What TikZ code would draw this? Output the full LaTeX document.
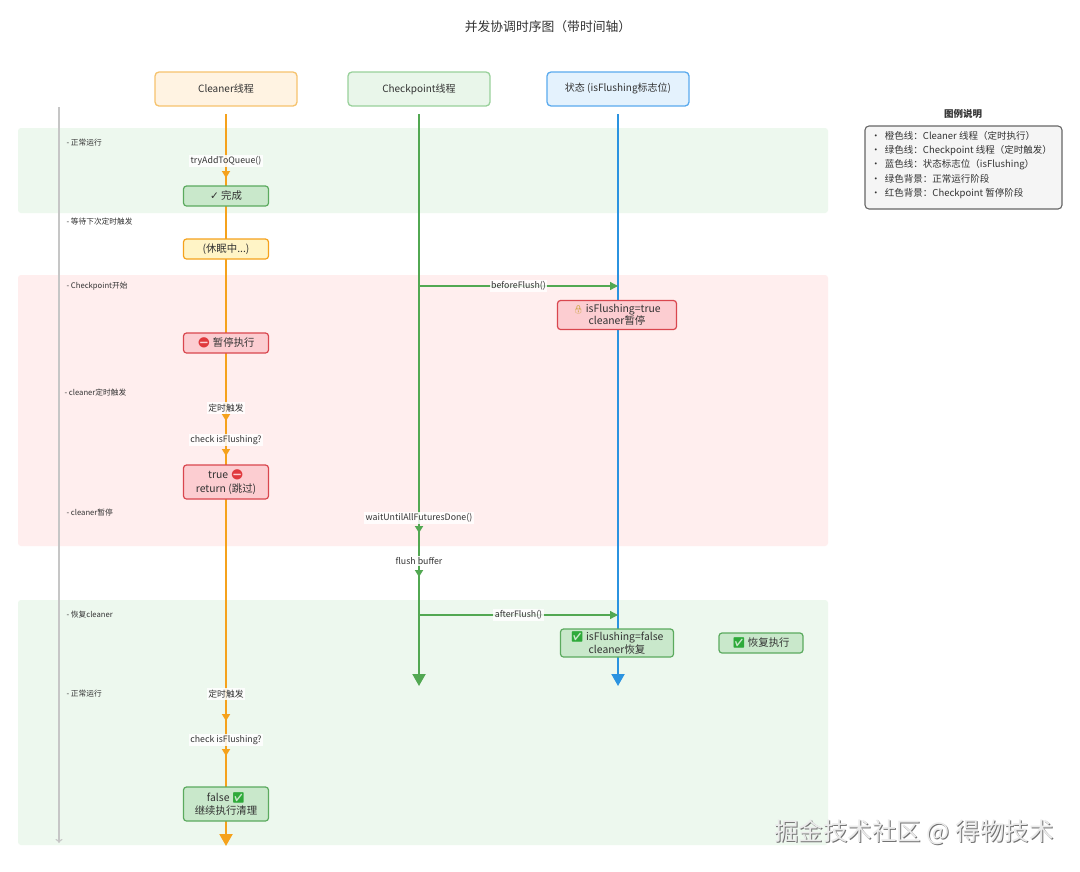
\documentclass[tikz,border=0pt]{standalone}
\usepackage{fontspec}
\setmainfont{Noto Sans CJK SC}
\newfontfamily\emo{Noto Emoji}
\newfontfamily\djv{DejaVu Sans}
\usetikzlibrary{arrows.meta}
\definecolor{orangeL}{HTML}{F5A21C}
\definecolor{greenL}{HTML}{52A852}
\definecolor{blueL}{HTML}{2B93E0}
\definecolor{bandG}{HTML}{EDF8EE}
\definecolor{bandR}{HTML}{FFEEEE}
\definecolor{boxG}{HTML}{C9E8CB}
\definecolor{boxGB}{HTML}{5BAA5E}
\definecolor{boxR}{HTML}{FCCDD1}
\definecolor{boxRB}{HTML}{D9464E}
\definecolor{boxY}{HTML}{FFF4C6}
\definecolor{hdrO}{HTML}{FFF3E2}
\definecolor{hdrOB}{HTML}{F6C36E}
\definecolor{hdrG}{HTML}{E9F6EA}
\definecolor{hdrGB}{HTML}{99D19B}
\definecolor{hdrB}{HTML}{E4F2FD}
\definecolor{hdrBB}{HTML}{5AAAEE}
\definecolor{stopR}{HTML}{E0393E}
\definecolor{okG}{HTML}{2EAA3A}
\definecolor{lockY}{HTML}{C9A13A}
\definecolor{txt}{HTML}{333333}
\tikzset{
  hdr/.style={draw, rounded corners=4pt, line width=1.3pt, minimum width=142pt, minimum height=34pt, font=\fontsize{10}{12}\selectfont, text=txt},
  evbox/.style={rounded corners=3pt, line width=1.2pt, minimum width=85pt, minimum height=20pt, inner sep=2pt, font=\fontsize{10.4}{13.5}\selectfont, align=center, text=txt},
  gbox/.style={evbox, draw=boxGB, fill=boxG},
  rbox/.style={evbox, draw=boxRB, fill=boxR},
  ybox/.style={evbox, draw=orangeL, fill=boxY},
  lbl/.style={font=\fontsize{8.8}{10}\selectfont, fill=white, fill opacity=0.85, text opacity=1, inner sep=1.5pt, text=txt},
  tlbl/.style={font=\fontsize{7.7}{9}\selectfont, anchor=west, text=txt},
  life/.style={line width=2pt},
  smalltip/.style={-{Triangle[length=7pt,width=8pt]}},
  bigtip/.style={-{Triangle[length=12pt,width=13pt]}},
  band/.style={rounded corners=3pt},
}
\begin{document}
\begin{tikzpicture}[x=1pt,y=-1pt]
\useasboundingbox[fill=white] (0,0) rectangle (1080,871);
% bands
\fill[bandG, band] (18,128) rectangle (828,213);
\fill[bandR, band] (18,275) rectangle (828,546);
\fill[bandG, band] (18,600) rectangle (828,845);
% title
\node[font=\fontsize{12.8}{15}\selectfont, text=txt] (title) at (548,27) {并发协调时序图（带时间轴）};
% headers
\node[hdr, draw=hdrOB, fill=hdrO] (hc) at (226,89) {Cleaner线程};
\node[hdr, draw=hdrGB, fill=hdrG] (hk) at (419,89) {Checkpoint线程};
\node[hdr, draw=hdrBB, fill=hdrB] (hs) at (618,89) {状态 (isFlushing标志位)};
% time axis
\coordinate (ttop) at (59,107);
\coordinate (tbot) at (59,843);
\draw[gray!45, line width=1.1pt, -{To[length=4pt,width=7pt]}] (ttop) -- (tbot);
\node[tlbl] (t1) at (63,143) {- 正常运行};
\node[tlbl] (t2) at (63,222) {- 等待下次定时触发};
\node[tlbl] (t3) at (63,286) {- Checkpoint开始};
\node[tlbl] (t4) at (61,393) {- cleaner定时触发};
\node[tlbl] (t5) at (63,513) {- cleaner暂停};
\node[tlbl] (t6) at (63,615) {- 恢复cleaner};
\node[tlbl] (t7) at (63,694) {- 正常运行};
% lifelines
\coordinate (ctop) at (226,114);
\coordinate (cbot) at (226,846);
\coordinate (ktop) at (419,114);
\coordinate (kbot) at (419,686);
\coordinate (stop) at (618,114);
\coordinate (sbot) at (618,686);
\draw[orangeL, life, bigtip] (ctop) -- (cbot);
\draw[greenL, life, bigtip] (ktop) -- (kbot);
\draw[blueL, life, bigtip] (stop) -- (sbot);
% horizontal messages
\coordinate (bf0) at (419,286);
\coordinate (bf1) at (618,286);
\coordinate (af0) at (419,615);
\coordinate (af1) at (618,615);
\draw[greenL, line width=1.3pt, -{Triangle[length=8pt,width=8pt]}] (bf0) -- node[lbl] (before) {beforeFlush()} (bf1);
\draw[greenL, line width=1.3pt, -{Triangle[length=8pt,width=8pt]}] (af0) -- node[lbl] (after) {afterFlush()} (af1);
% cleaner labels and small tips
\node[lbl] (tryadd) at (226,161) {tryAddToQueue()};
\node[lbl] (trig1) at (226,408) {定时触发};
\node[lbl] (check1) at (226,440) {check isFlushing?};
\node[lbl] (trig2) at (226,694) {定时触发};
\node[lbl] (check2) at (226,740) {check isFlushing?};
\coordinate (p1) at (226,178);
\coordinate (p2) at (226,421);
\coordinate (p3) at (226,456);
\coordinate (p4) at (226,721);
\coordinate (p5) at (226,756);
\draw[orangeL, life, smalltip] (tryadd.south) -- (p1);
\draw[orangeL, life, smalltip] (trig1.south) -- (p2);
\draw[orangeL, life, smalltip] (check1.south) -- (p3);
\draw[orangeL, life, smalltip] (trig2.south) -- (p4);
\draw[orangeL, life, smalltip] (check2.south) -- (p5);
% checkpoint labels
\node[lbl] (wait) at (419,518) {waitUntilAllFuturesDone()};
\node[lbl] (flush) at (419,561) {flush buffer};
\coordinate (q1) at (419,533);
\coordinate (q2) at (419,577);
\draw[greenL, life, smalltip] (wait.south) -- (q1);
\draw[greenL, life, smalltip] (flush.south) -- (q2);
% cleaner boxes
\node[gbox] (done) at (226,196) {{\djv\fontsize{10.5}{12}\selectfont ✓} 完成};
\node[ybox] (sleep) at (226,249) {(休眠中...)};
\node[rbox] (pause) at (226,343) {{\emo\color{stopR}⛔} 暂停执行};
\node[rbox, minimum height=34pt] (truebox) at (226,482) {true {\emo\color{stopR}⛔}\\return (跳过)};
\node[gbox, minimum height=34pt] (falsebox) at (226,804) {false {\emo\color{okG}✅}\\继续执行清理};
% state boxes
\node[rbox, minimum width=119pt, minimum height=29pt, font=\fontsize{10.4}{12.5}\selectfont] (flagT) at (617,315) {{\emo\color{lockY}\fontsize{8}{10}\selectfont 🔒} isFlushing=true\\cleaner暂停};
\node[gbox, minimum width=113pt, minimum height=28pt, font=\fontsize{10.4}{12.5}\selectfont] (flagF) at (617,643) {{\emo\color{okG}✅} isFlushing=false\\cleaner恢复};
\node[gbox, minimum width=84pt] (resume) at (761,643) {{\emo\color{okG}✅} 恢复执行};
% legend
\node[font=\fontsize{9.5}{11}\selectfont\bfseries, text=txt] (legt) at (963,114) {图例说明};
\node[draw=black!60, fill=black!4, rounded corners=4pt, line width=1.1pt, minimum width=197pt, minimum height=83pt] (legbox) at (963.5,167.5) {};
\node[anchor=north west, align=left, font=\fontsize{9.5}{14.3}\selectfont, text=txt, inner sep=0pt] (legtxt) at (871,131) {•\ \ 橙色线：Cleaner 线程（定时执行）\\•\ \ 绿色线：Checkpoint 线程（定时触发）\\•\ \ 蓝色线：状态标志位（isFlushing）\\•\ \ 绿色背景：正常运行阶段\\•\ \ 红色背景：Checkpoint 暂停阶段};
% watermark
\node[font=\fontsize{24.5}{26}\selectfont, text=black!55] (wms) at (915,833) {掘金技术社区 @ 得物技术};
\node[font=\fontsize{24.5}{26}\selectfont, text=black!8] (wm) at (914,832) {掘金技术社区 @ 得物技术};
\end{tikzpicture}
\end{document}
